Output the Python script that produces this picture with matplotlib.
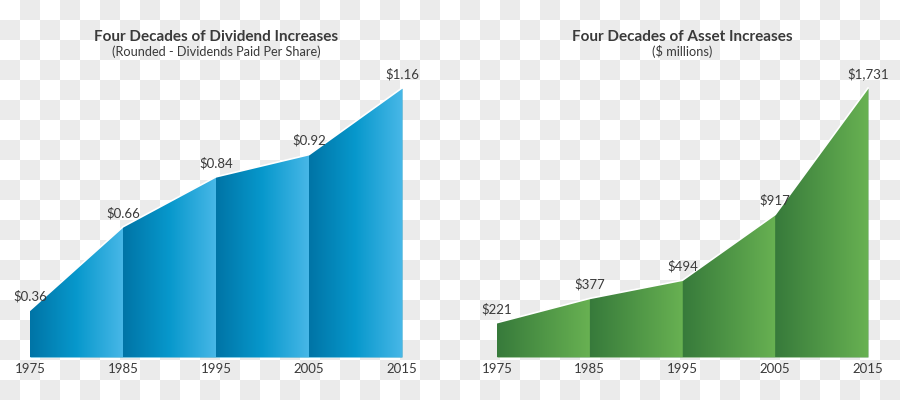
import numpy as np
import matplotlib.pyplot as plt
from matplotlib.colors import LinearSegmentedColormap
from matplotlib.patches import Polygon

plt.rcParams['font.family'] = ['Lato', 'DejaVu Sans']

# Data
years = [1975, 1985, 1995, 2005, 2015]
dividends = [0.36, 0.66, 0.84, 0.92, 1.16]
dividend_labels = ["$0.36", "$0.66", "$0.84", "$0.92", "$1.16"]
assets = [221, 377, 494, 917, 1731]
asset_labels = ["$221", "$377", "$494", "$917", "$1,731"]

text_color = "#3a3a3a"
blue_cmap = LinearSegmentedColormap.from_list("blue", ["#0074a6", "#0798cc", "#47b7e7"])
green_cmap = LinearSegmentedColormap.from_list("green", ["#377a3b", "#4f9646", "#68b152"])

fig = plt.figure(figsize=(9, 4), dpi=100)

# checkerboard background (transparency pattern), 20 px squares
bg_ax = fig.add_axes([0, 0, 1, 1], zorder=-1)
yy, xx = np.mgrid[0:20, 0:45]
checker = (xx + yy) % 2
bg = np.ones((20, 45, 3))
bg[checker == 1] = 0.922
bg_ax.imshow(bg, extent=(0, 900, 400, 0), aspect='auto', interpolation='nearest')
bg_ax.set_xlim(0, 900)
bg_ax.set_ylim(400, 0)
bg_ax.axis('off')


def draw_area(ax, values, labels, cmap, ybottom, ytop):
    ax.axis('off')
    # base fill so the seams between gradient segments don't show white
    ax.fill_between(years, values, ybottom, color=cmap(0.5), lw=0, zorder=1)
    grad = np.linspace(0, 1, 256).reshape(1, -1)
    for i in range(len(years) - 1):
        poly = Polygon([(years[i], ybottom), (years[i], values[i]),
                        (years[i + 1], values[i + 1]), (years[i + 1], ybottom)],
                       closed=True, facecolor='none', edgecolor='none',
                       transform=ax.transData)
        ax.add_patch(poly)
        im = ax.imshow(grad, cmap=cmap, aspect='auto',
                       extent=(years[i], years[i + 1], ybottom, ytop),
                       interpolation='bilinear', zorder=2)
        im.set_clip_path(poly)
    ax.set_xlim(years[0], years[-1])
    ax.set_ylim(ybottom, ytop)
    ax.plot(years, values, color='white', lw=1.2, zorder=3, clip_on=False)
    for yr, v, lab in zip(years, values, labels):
        ax.annotate(lab, (yr, v), xytext=(0, 10), textcoords='offset points',
                    ha='center', va='center', fontsize=9.5, color=text_color,
                    annotation_clip=False)
        ax.annotate(str(yr), (yr, ybottom), xytext=(0, -8.5), textcoords='offset points',
                    ha='center', va='center', fontsize=9.5, color=text_color,
                    annotation_clip=False)


ax1 = fig.add_axes([30 / 900, 43 / 400, 372 / 900, 269 / 400], zorder=1)
ax1.patch.set_alpha(0)
draw_area(ax1, dividends, dividend_labels, blue_cmap, 0.191, 1.16)

ax2 = fig.add_axes([497 / 900, 43 / 400, 371 / 900, 269 / 400], zorder=1)
ax2.patch.set_alpha(0)
draw_area(ax2, assets, asset_labels, green_cmap, 0, 1731)

fig.text(216 / 900, 1 - 37 / 400, "Four Decades of Dividend Increases",
         ha='center', va='center', fontsize=11, fontweight='bold', color=text_color)
fig.text(216 / 900, 1 - 52 / 400, "(Rounded - Dividends Paid Per Share)",
         ha='center', va='center', fontsize=9.2, color=text_color)
fig.text(682 / 900, 1 - 37 / 400, "Four Decades of Asset Increases",
         ha='center', va='center', fontsize=11, fontweight='bold', color=text_color)
fig.text(682 / 900, 1 - 52 / 400, "($ millions)",
         ha='center', va='center', fontsize=9.2, color=text_color)

fig.savefig("out.png", dpi=100)
plt.close(fig)
